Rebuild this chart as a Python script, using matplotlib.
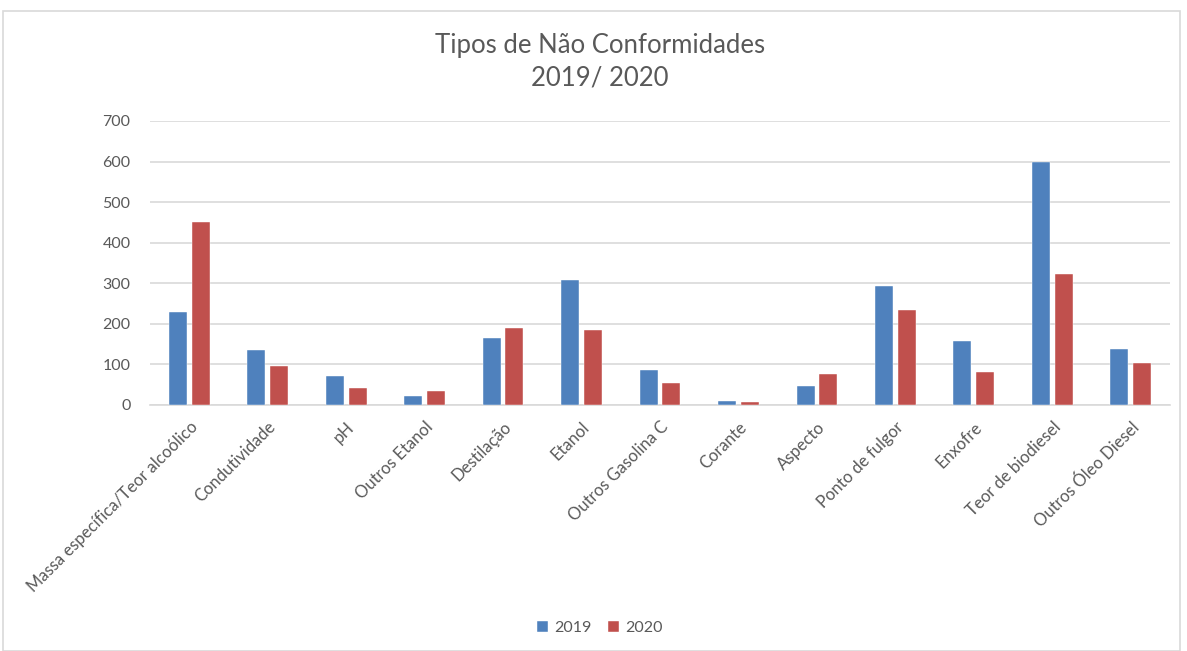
import matplotlib
matplotlib.use("Agg")
import matplotlib.pyplot as plt
import numpy as np
from matplotlib.patches import Rectangle

categories = ["Massa específica/Teor alcoólico", "Condutividade", "pH", "Outros Etanol",
              "Destilação", "Etanol", "Outros Gasolina C", "Corante", "Aspecto",
              "Ponto de fulgor", "Enxofre", "Teor de biodiesel", "Outros Óleo Diesel"]
values_2019 = [228, 135, 71, 21, 166, 307, 86, 9, 48, 293, 157, 600, 137]
values_2020 = [452, 95, 43, 35, 190, 186, 54, 7, 76, 234, 81, 324, 104]
series_names = ["2019", "2020"]
yticks = [0, 100, 200, 300, 400, 500, 600, 700]

plt.rcParams['font.family'] = ['Lato', 'DejaVu Sans']
W, H = 1187, 651
fig = plt.figure(figsize=(W/100, H/100), dpi=100)
ax = fig.add_axes([150/W, 1-405/H, 1020/W, (405-121)/H])

x = np.arange(len(categories))
bw = 0.23
gap = 0.03
ax.bar(x - bw/2 - gap, values_2019, bw, color="#4F81BD", edgecolor="white", linewidth=0.3, label=series_names[0], zorder=3)
ax.bar(x + bw/2 + gap, values_2020, bw, color="#C0504D", edgecolor="white", linewidth=0.3, label=series_names[1], zorder=3)

ax.set_xlim(-0.5, len(categories) - 0.5)
ax.set_ylim(0, 700)
ax.set_yticks(yticks)
ax.yaxis.grid(True, color="#D9D9D9", linewidth=1.2, zorder=0)
for s in ["top", "right", "left"]:
    ax.spines[s].set_visible(False)
ax.spines["bottom"].set_color("#D9D9D9")
ax.spines["bottom"].set_linewidth(1.2)
ax.tick_params(axis="both", length=0, colors="#595959", labelsize=11.5)
ax.tick_params(axis="y", pad=14)
ax.set_xticks(x)
ax.set_xticklabels(categories, rotation=45, ha="right", rotation_mode="anchor", color="#595959", fontsize=12)
ax.tick_params(axis="x", pad=10)

fig.text(600/W, 1-45/H, "Tipos de Não Conformidades", ha="center", va="center", fontsize=18.5, color="#595959")
fig.text(600/W, 1-78/H, "2019/ 2020", ha="center", va="center", fontsize=18.5, color="#595959")

leg = fig.legend(loc="center", bbox_to_anchor=(600/W, 1-628/H), ncol=2, frameon=False,
                 fontsize=11.5, handlelength=0.7, handleheight=0.7, columnspacing=1.0, handletextpad=0.4)
for t in leg.get_texts():
    t.set_color("#595959")

fig.patches.append(Rectangle((3/W, 0), (1180-3)/W, 1-11/H, transform=fig.transFigure,
                             fill=False, edgecolor="#D9D9D9", linewidth=1.2))

fig.savefig("out.png", dpi=100, facecolor="white")
